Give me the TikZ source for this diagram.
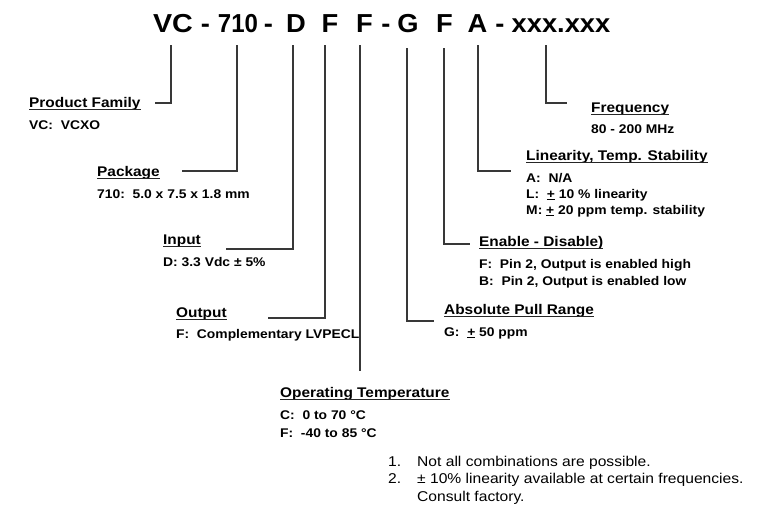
\documentclass[tikz,border=0pt]{standalone}
\usepackage{fontspec}
\setmainfont{Liberation Sans}[FakeStretch=1.1]
\newfontfamily\codefont{Liberation Sans}[FakeStretch=1.05]
\begin{document}
\begin{tikzpicture}[x=1pt,y=-1pt,
  title/.style={anchor=base west, inner sep=0pt, font=\bfseries\fontsize{14}{16}\selectfont},
  sub/.style={anchor=base west, inner sep=0pt, font=\bfseries\fontsize{12.6}{14}\selectfont},
  note/.style={anchor=base west, inner sep=0pt, font=\fontsize{14.2}{16}\selectfont},
  code/.style={anchor=base, inner sep=0pt, font=\codefont\bfseries\fontsize{26}{30}\selectfont},
  conn/.style={draw=black!78, line width=1.1pt},
  uline/.style={draw=black!85, line width=1.2pt}]
\useasboundingbox[fill=white] (0,0) rectangle (779,523);
% part number
\node[code] (vc)  at (173,32.5) {\scalebox{1.05}[1]{VC}};
\node[code] (d1)  at (205.5,32.5) {-};
\node[code] (pkc) at (238,32.5) {\scalebox{0.88}[1]{710}};
\node[code] (d2)  at (268.5,32.5) {-};
\node[code] (inc) at (296,32.5) {D};
\node[code] (ouc) at (330,32.5) {F};
\node[code] (otc) at (364.5,32.5) {F};
\node[code] (d3)  at (386,32.5) {-};
\node[code] (apc) at (408,32.5) {G};
\node[code] (enc) at (444.5,32.5) {F};
\node[code] (lic) at (477.5,32.5) {A};
\node[code] (d4)  at (500,32.5) {-};
\node[code] (frc) at (561,32.5) {xxx.xxx};
% labels
\node[title] (pf) at (29,107) {Product Family};
\node[sub] (pfs) at (29,129) {VC:\ \ VCXO};
\node[title] (pk) at (97,176) {Package};
\node[sub] (pks) at (97,198) {710:\ \ 5.0 x 7.5 x 1.8 mm};
\node[title] (in) at (163,244) {Input};
\node[sub] (ins) at (163,266) {D: 3.3 Vdc ± 5\%};
\node[title] (ou) at (176,317) {Output};
\node[sub] (ous) at (176,338) {F:\ \ Complementary LVPECL};
\node[title] (ot) at (280,397) {Operating Temperature};
\node[sub] (ots1) at (280,419) {C:\ \ 0 to 70 °C};
\node[sub] (ots2) at (280,437) {F:\ \ -40 to 85 °C};
\node[title] (fr) at (591,112) {Frequency};
\node[sub] (frs) at (591,133) {80 - 200 MHz};
\node[title] (li) at (526,160) {Linearity, Temp. Stability};
\node[sub] (lis1) at (526,182) {A:\ \ N/A};
\node[sub] (lis2) at (526,198) {L:\ \ \underline{+} 10 \% linearity};
\node[sub] (lis3) at (526,214) {M: \underline{+} 20 ppm temp. stability};
\node[title] (en) at (479,246) {Enable - Disable)};
\node[sub] (ens1) at (479,268) {F:\ \ Pin 2, Output is enabled high};
\node[sub] (ens2) at (479,285) {B:\ \ Pin 2, Output is enabled low};
\node[title] (ap) at (444,314) {Absolute Pull Range};
\node[sub] (aps) at (444,336) {G:\ \ \underline{+} 50 ppm};
% notes
\node[note] (n1) at (388,466) {1.};
\node[note] (n1t) at (417,466) {Not all combinations are possible.};
\node[note] (n2) at (388,483) {2.};
\node[note] (n2t) at (417,483) {± 10\% linearity available at certain frequencies.};
\node[note] (n3t) at (417,501) {Consult factory.};
% underlines
\foreach \n in {pf,pk,in,ou,ot,fr,li,en,ap}
  \draw[uline] ([yshift=-2.6pt]\n.base west) -- ([yshift=-2.6pt]\n.base east);
% connectors
\coordinate (vcT) at (171,45);  \coordinate (pfE) at (155,103);
\coordinate (pkT) at (237,45);  \coordinate (pkE) at (182,171);
\coordinate (inT) at (293,45);  \coordinate (inE) at (226,249);
\coordinate (ouT) at (325,45);  \coordinate (ouE) at (268,318);
\coordinate (otT) at (360,45);  \coordinate (otE) at (360,371);
\coordinate (apT) at (407,48);  \coordinate (apE) at (434,321);
\coordinate (enT) at (444,48);  \coordinate (enE) at (470,244);
\coordinate (liT) at (478,45);  \coordinate (liE) at (511,171);
\coordinate (frT) at (546,45);  \coordinate (frE) at (567,103);
\draw[conn] (vcT) |- (pfE);
\draw[conn] (pkT) |- (pkE);
\draw[conn] (inT) |- (inE);
\draw[conn] (ouT) |- (ouE);
\draw[conn] (otT) -- (otE);
\draw[conn] (apT) |- (apE);
\draw[conn] (enT) |- (enE);
\draw[conn] (liT) |- (liE);
\draw[conn] (frT) |- (frE);
\end{tikzpicture}
\end{document}
